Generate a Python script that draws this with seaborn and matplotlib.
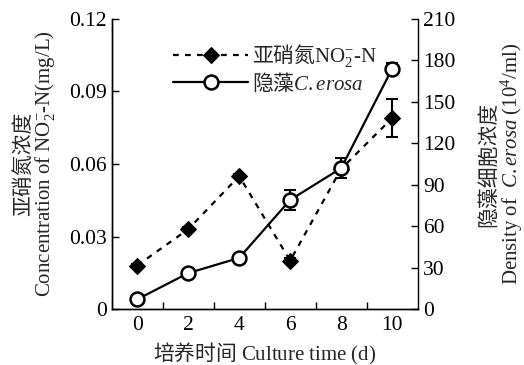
import matplotlib
matplotlib.use("Agg")
import matplotlib.pyplot as plt
import pandas as pd
import seaborn as sns

# Culture time (days)
days = [0, 2, 4, 6, 8, 10]
# Nitrite nitrogen concentration (mg/L) and its standard deviation
nitrite = [0.018, 0.033, 0.055, 0.020, 0.058, 0.079]
nitrite_sd = [0.0006, 0.0008, 0.0008, 0.0010, 0.0008, 0.0079]
# C. erosa cell density (10^4 cells/ml) and its standard deviation
density = [7, 26, 37, 79, 102, 174]
density_sd = [1.0, 1.5, 1.5, 7.5, 7.0, 4.0]

x_ticks = [0, 2, 4, 6, 8, 10]
left_ticks = [0, 0.03, 0.06, 0.09, 0.12]
left_ticklabels = ["0", "0.03", "0.06", "0.09", "0.12"]
right_ticks = [0, 30, 60, 90, 120, 150, 180, 210]

df = pd.DataFrame({"day": days, "nitrite": nitrite, "density": density})

sns.set_theme(style="ticks")
plt.rcParams.update({
    "font.family": ["Liberation Serif", "Noto Sans CJK SC", "DejaVu Sans"],
    "mathtext.fontset": "custom",
    "mathtext.rm": "Liberation Serif",
    "mathtext.it": "Liberation Serif:italic",
    "mathtext.bf": "Liberation Serif:bold",
    "axes.edgecolor": "black",
    "axes.linewidth": 1.0,
    "xtick.color": "black",
    "ytick.color": "black",
})
CJK = "Noto Sans CJK SC"
FS_TICK = 15.5
FS_LAB = 15

fig = plt.figure(figsize=(5.24, 3.65), dpi=100)
ax = fig.add_axes([0.2132, 0.1534, 0.5839, 0.7946])
ax2 = ax.twinx()

# Nitrite: dashed line with filled diamonds (left axis)
ax.errorbar(days, nitrite, yerr=nitrite_sd, fmt="none", ecolor="black",
            elinewidth=1.5, capsize=4, capthick=1.5, zorder=2)
sns.lineplot(data=df, x="day", y="nitrite", ax=ax, color="black",
             linewidth=1.6, marker="D", markersize=8, markerfacecolor="black",
             markeredgecolor="black", errorbar=None, zorder=3)
l_no2 = ax.lines[-1]
l_no2.set_linestyle((0, (2.6, 2.8)))
l_no2.set_label("亚硝氮$\\mathrm{NO_2^{-}\\text{-}N}$")

# Algal density: solid line with open circles (right axis)
ax2.errorbar(days, density, yerr=density_sd, fmt="none", ecolor="black",
             elinewidth=1.5, capsize=4, capthick=1.5, zorder=2)
sns.lineplot(data=df, x="day", y="density", ax=ax2, color="black",
             linewidth=1.6, marker="o", markersize=10, markerfacecolor="white",
             markeredgecolor="black", markeredgewidth=1.8, errorbar=None, zorder=3)
l_den = ax2.lines[-1]
l_den.set_label("隐藻$\\mathit{C.erosa}$")

# Axes limits and ticks
ax.set_xlim(-1, 11)
ax.set_ylim(0, 0.12)
ax2.set_ylim(0, 210)
ax.set_xticks(x_ticks)
ax.set_xticks([1, 3, 5, 7, 9], minor=True)
ax.set_yticks(left_ticks)
ax.set_yticklabels(left_ticklabels)
ax2.set_yticks(right_ticks)

ax.tick_params(axis="x", which="major", length=0, pad=5, labelsize=FS_TICK)
ax.tick_params(axis="x", which="minor", direction="in", length=5, width=1)
ax.tick_params(axis="y", direction="in", length=5, width=1, pad=3.5, labelsize=FS_TICK)
ax2.tick_params(axis="y", direction="in", length=5, width=1, pad=3.8, labelsize=FS_TICK)

for a in (ax, ax2):
    a.spines["top"].set_visible(False)
ax.spines["right"].set_visible(False)

# Axis labels
ax.set_xlabel("培养时间 $\\mathrm{Culture\\ time\\ (d)}$", fontsize=FS_LAB,
              family=CJK, labelpad=4)
ax.set_ylabel("亚硝氮浓度\n$\\mathrm{Concentration\\ of\\ NO_2^{-}\\text{-}N(mg/L)}$",
              fontsize=FS_LAB, family=CJK, linespacing=0.95)
ax.yaxis.set_label_coords(-0.18, 0.5)
ax2.set_ylabel("隐藻细胞浓度\n$\\mathrm{Density\\ of\\ \\ }\\mathit{C.erosa}\\mathrm{\\ (10^4/ml)}$",
               fontsize=FS_LAB, family=CJK, linespacing=0.95)
ax2.yaxis.set_label_coords(1.195, 0.5)

# Legend combining both series
leg = ax2.legend(handles=[l_no2, l_den], loc="upper left",
                 bbox_to_anchor=(0.14, 0.985), frameon=False,
                 handlelength=3.6, handletextpad=0.2, labelspacing=0.1,
                 prop={"family": CJK, "size": FS_LAB})

fig.savefig("out.png", dpi=100)
